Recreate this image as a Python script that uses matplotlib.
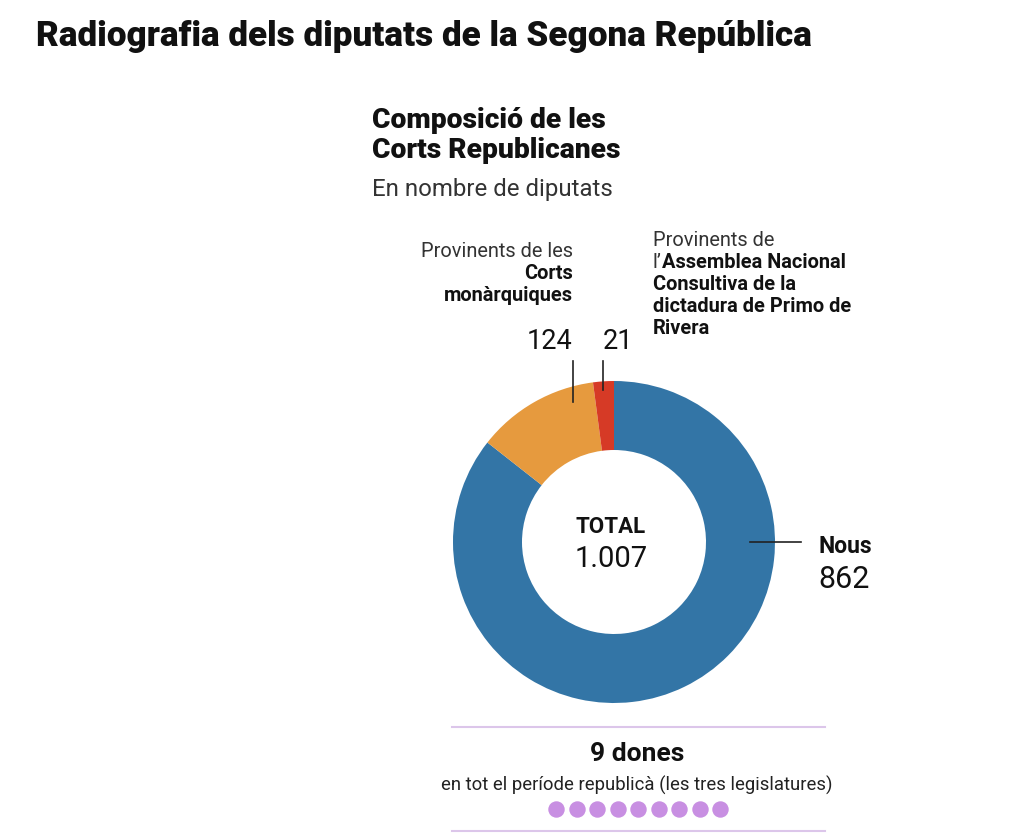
import numpy as np
import matplotlib
matplotlib.use("Agg")
import matplotlib.pyplot as plt

plt.rcParams['font.family'] = ['Roboto', 'DejaVu Sans']

# data
groups = ['Nous', 'Corts monàrquiques', 'Assemblea Nacional']
deputies = [862, 124, 21]
colors = ['#3375a6', '#e69a3e', '#d63a26']
total = sum(deputies)
n_women = 9

W, H = 1024, 837
fig = plt.figure(figsize=(W / 100, H / 100), dpi=100)
fig.patch.set_facecolor('white')

# donut
cx, cy, R = 614, 543, 161
pax = fig.add_axes([(cx - R) / W, (H - cy - R) / H, 2 * R / W, 2 * R / H])
pax.pie(deputies, colors=colors, startangle=90, counterclock=False,
        radius=1, wedgeprops=dict(width=1 - 92 / 161, linewidth=0))
pax.set_xlim(-1, 1)
pax.set_ylim(-1, 1)
pax.axis('off')

# overlay in pixel coordinates for labels
ax = fig.add_axes([0, 0, 1, 1], zorder=5)
ax.set_xlim(0, W)
ax.set_ylim(H, 0)
ax.axis('off')
ax.patch.set_alpha(0)

dark = '#111111'
grey = '#333333'
ax.text(36, 46, 'Radiografia dels diputats de la Segona República', fontsize=25.3,
        fontweight='black', color=dark, va='baseline')

ax.text(372, 128, 'Composició de les', fontsize=20.3, fontweight='heavy', color=dark, va='baseline')
ax.text(372, 158, 'Corts Republicanes', fontsize=20.3, fontweight='heavy', color=dark, va='baseline')
ax.text(372, 196, 'En nombre de diputats', fontsize=17.3, color=grey, va='baseline')

fs = 14.4
# left annotation
ax.text(573, 257, 'Provinents de les', fontsize=fs, color=grey, ha='right', va='baseline')
ax.text(573, 279, 'Corts', fontsize=fs, fontweight='bold', color=dark, ha='right', va='baseline')
ax.text(573, 301, 'monàrquiques', fontsize=fs, fontweight='bold', color=dark, ha='right', va='baseline')

# right annotation
ax.text(653, 246, 'Provinents de', fontsize=fs, color=grey, va='baseline')
t1 = ax.text(653, 268, 'l\u2019', fontsize=fs, color=grey, va='baseline')
ax.annotate('Assemblea Nacional', xy=(1, 0), xycoords=t1, fontsize=fs,
            fontweight='bold', color=dark, va='bottom', ha='left')
ax.text(653, 290, 'Consultiva de la', fontsize=fs, fontweight='bold', color=dark, va='baseline')
ax.text(653, 312, 'dictadura de Primo de', fontsize=fs, fontweight='bold', color=dark, va='baseline')
ax.text(653, 334, 'Rivera', fontsize=fs, fontweight='bold', color=dark, va='baseline')

ax.text(572, 349, str(deputies[1]), fontsize=19.5, color=dark, ha='right', va='baseline')
ax.text(603, 349, str(deputies[2]), fontsize=19.5, color=dark, ha='left', va='baseline')
ax.plot([573, 573], [362, 403], color='#222222', lw=1.2)
ax.plot([603, 603], [362, 391], color='#222222', lw=1.2)

# centre
ax.text(611, 533, 'TOTAL', fontsize=16, fontweight='bold', color=dark, ha='center', va='baseline')
ax.text(611, 567, f'{total:,}'.replace(',', '.'), fontsize=21, color=dark, ha='center', va='baseline')

# Nous
ax.plot([750, 801], [543, 543], color='#222222', lw=1.2)
ax.text(818, 553, groups[0], fontsize=16.5, fontweight='bold', color=dark, va='baseline')
ax.text(818, 588, str(deputies[0]), fontsize=22, color=dark, va='baseline')

# women box
lc = '#dcc6ea'
ax.plot([452, 825], [728, 728], color=lc, lw=1.5)
ax.plot([452, 825], [832, 832], color=lc, lw=1.5)
ax.text(637, 761, f'{n_women} dones', fontsize=19, fontweight='bold', color=dark,
        ha='center', va='baseline')
ax.text(637, 791, 'en tot el període republicà (les tres legislatures)', fontsize=13.3,
        color='#222222', ha='center', va='baseline')
xs = 556 + 20.5 * np.arange(n_women)
ax.scatter(xs, np.full(n_women, 810), s=140, color='#c88fe2', linewidths=0)

fig.savefig('out.png', dpi=100)
